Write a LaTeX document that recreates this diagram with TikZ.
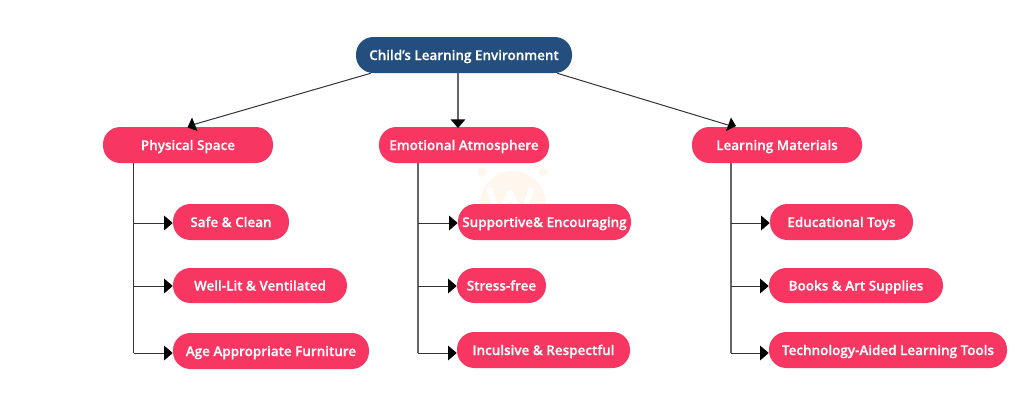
\documentclass[tikz,border=0pt]{standalone}
\usepackage{fontspec}
\setmainfont{Open Sans}[BoldFont={Open Sans Semibold},BoldFeatures={FakeBold=0.35}]
\usetikzlibrary{arrows.meta}
\definecolor{rootblue}{HTML}{234E7D}
\definecolor{boxpink}{HTML}{F73762}
\definecolor{linegray}{HTML}{333333}
\definecolor{softgray}{HTML}{666666}
\definecolor{logotint}{HTML}{FFF6EE}
\tikzset{
  px/.style={x=0.75pt,y=-0.75pt},
  pill/.style={fill=boxpink,rounded corners=13pt,text=white,inner sep=0pt,
    font=\fontsize{10.1pt}{12pt}\selectfont\bfseries,text height=9pt,text depth=1.5pt},
  topbox/.style={pill,fill=rootblue},
  link/.style={draw=linegray,line width=0.75pt},
  softlink/.style={draw=softgray,line width=1pt},
  tip/.style={-{Triangle[length=6.5pt,width=11pt,fill=black,color=black]}},
  feed/.style={link,tip},
  softfeed/.style={softlink,tip},
  head/.style={fill=black,draw=none}
}
% name, left, top, right, bottom, style, text
\newcommand{\pillbox}[7]{%
  \node[#6,minimum width={(#4-#2)*0.75pt},minimum height={(#5-#3)*0.75pt}] (#1)
    at ({(#2+#4)/2},{(#3+#5)/2}) {#7};
}
\begin{document}
\begin{tikzpicture}[px]
\useasboundingbox (0,0) rectangle (1024,404);
\fill[white] (0,0) rectangle (1024,404);
% faint emblem behind the middle column
\fill[logotint] (513,204) circle (33);
\fill[logotint] (482,172) circle (4.5) (543,172) circle (4.5);
\draw[white,line width=4pt,line join=round] (489,188) -- (499,217) -- (510,192) -- (521,217) -- (532,188);
\pillbox{root}{356}{37}{572}{73}{topbox}{Child’s Learning Environment}
\pillbox{phys}{103}{127}{273}{163}{pill}{Physical Space}
\pillbox{emo}{379}{127}{549}{163}{pill}{Emotional Atmosphere}
\pillbox{mat}{692}{127}{862}{163}{pill}{Learning Materials}
\pillbox{safe}{173}{204}{289}{240}{pill}{Safe \& Clean}
\pillbox{well}{173}{268}{347}{303}{pill}{Well-Lit \& Ventilated}
\pillbox{age}{173}{333}{369}{369}{pill}{Age Appropriate Furniture}
\pillbox{supp}{458}{204}{631}{240}{pill}{Supportive\& Encouraging}
\pillbox{stress}{457}{268}{546}{303}{pill}{Stress-free}
\pillbox{incl}{457}{332}{630}{368}{pill}{Inculsive \& Respectful}
\pillbox{toys}{770}{204}{913}{240}{pill}{Educational Toys}
\pillbox{books}{769}{268}{943}{303}{pill}{Books \& Art Supplies}
\pillbox{tech}{769}{332}{1007}{368}{pill}{Technology-Aided Learning Tools}
% slanted links from the top box
\coordinate (physin) at (192,125);
\coordinate (matin) at (728,125);
\draw[link] (root.south west) ++(15,0) -- (physin);
\draw[link] (root.south east) ++(-15,0) -- (matin);
\fill[head] (192,117.5) -- (187.5,127.5) -- (197.5,131) -- cycle;
\fill[head] (731,117.5) -- (726,131) -- (736,126) -- cycle;
\draw[softfeed] (root.south -| 458,0) -- (458,128);
% child buses
\draw[link] (phys.south -| 133.5,0) -- (133.5,353) coordinate (pb);
\draw[feed] (133.5,223) -- (safe.west |- 0,223);
\draw[feed] (133.5,286) -- (well.west |- 0,286);
\draw[feed] (pb) -- (age.west |- 0,353);
\draw[softlink] (emo.south -| 418,0) -- (418,353) coordinate (eb);
\draw[feed] (418,223) -- (supp.west |- 0,223);
\draw[feed] (418,286) -- (stress.west |- 0,286);
\draw[feed] (eb) -- (incl.west |- 0,353);
\draw[softlink] (mat.south -| 731,0) -- (731,353) coordinate (mb);
\draw[feed] (731,223) -- (toys.west |- 0,223);
\draw[feed] (731,286) -- (books.west |- 0,286);
\draw[feed] (mb) -- (tech.west |- 0,353);
\end{tikzpicture}
\end{document}
